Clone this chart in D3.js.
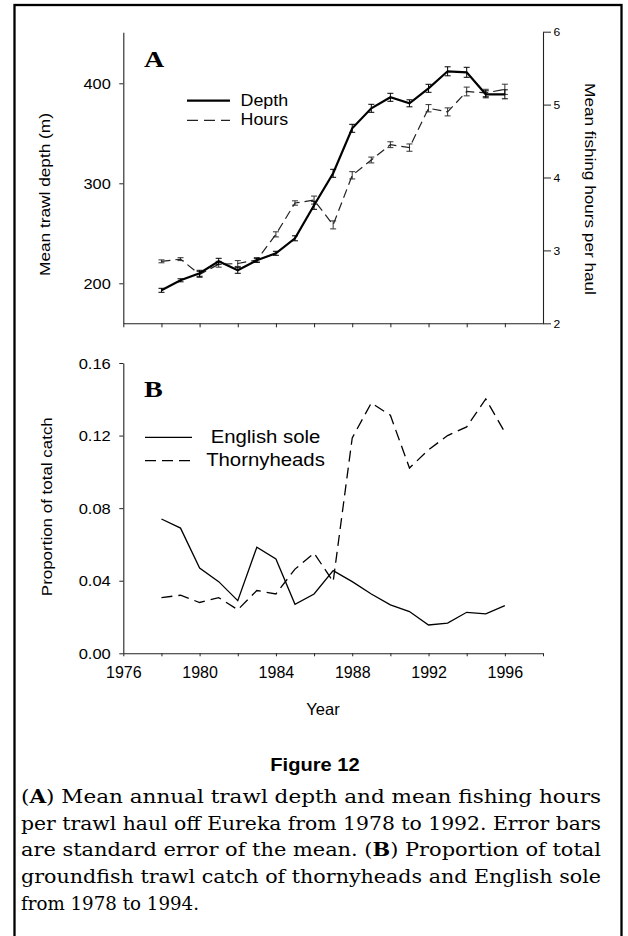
<!DOCTYPE html>
<html>
<head>
<meta charset="utf-8">
<script src="https://cdn.jsdelivr.net/npm/d3@7"></script>
<style>
  body { margin: 0; background: #fff; }
  svg { display: block; }
</style>
</head>
<body>
<script>
'use strict';

// values
let years = [1978, 1979, 1980, 1981, 1982, 1983, 1984, 1985, 1986, 1987,
             1988, 1989, 1990, 1991, 1992, 1993, 1994, 1995, 1996];
let depth = [193, 203, 210, 222, 213, 223, 230, 245, 278, 310,
             355, 375, 386, 380, 395, 412, 411, 389, 389];
let depthSE = [2, 1.5, 3, 3, 3, 2, 2, 2.5, 4, 4,
               4, 4, 4, 3.5, 4, 4.5, 5, 3.5, 4.5];
let hours = [2.85, 2.88, 2.67, 2.81, 2.82, 2.87, 3.22, 3.65, 3.69, 3.35,
             4.03, 4.24, 4.45, 4.41, 4.95, 4.90, 5.18, 5.16, 5.21];
let hoursSE = [0.02, 0.02, 0.04, 0.04, 0.04, 0.03, 0.035, 0.03, 0.055, 0.055,
               0.05, 0.04, 0.04, 0.05, 0.05, 0.055, 0.06, 0.05, 0.07];
let englishSole = [0.074, 0.069, 0.047, 0.0395, 0.029, 0.0585, 0.052, 0.027, 0.0327, 0.0456,
                   0.0395, 0.0327, 0.0267, 0.023, 0.0156, 0.0166, 0.0226, 0.0217, 0.0263];
let thornyheads = [0.0307, 0.032, 0.028, 0.0307, 0.024, 0.0346, 0.0327, 0.0464, 0.0552, 0.0395,
                   0.1187, 0.138, 0.1312, 0.1021, 0.1122, 0.12, 0.1248, 0.1402, 0.1218];

let depthTicks = [200, 300, 400];
let hoursTicks = [2, 3, 4, 5, 6];
let propTicks = [0, 0.04, 0.08, 0.12, 0.16];
let yearTicksA = [1976, 1978, 1980, 1982, 1984, 1986, 1988, 1990, 1992, 1994, 1996];
let yearTicksB = [1976, 1978, 1980, 1982, 1984, 1986, 1988, 1990, 1992, 1994, 1996, 1998];
let yearLabels = [1976, 1980, 1984, 1988, 1992, 1996];

let caption = [
  [['(', false], ['A', true], [') Mean annual trawl depth and mean fishing hours', false]],
  [['per trawl haul off Eureka from 1978 to 1992. Error bars', false]],
  [['are standard error of the mean. (', false], ['B', true], [') Proportion of total', false]],
  [['groundfish trawl catch of thornyheads and English sole', false]],
  [['from 1978 to 1994.', false]]
];

let width = 628;
let height = 936;
let sans = '"Liberation Sans", Arial, sans-serif';
let serif = '"Liberation Serif", "Times New Roman", serif';

let svg = d3.select('body').append('svg')
  .attr('width', width)
  .attr('height', height);

// outer frame (bottom runs off the page)
svg.append('rect')
  .attr('x', 14.5).attr('y', 5)
  .attr('width', 607).attr('height', 1000)
  .attr('fill', 'none').attr('stroke', '#000').attr('stroke-width', 2.3);

let x = d3.scaleLinear().domain([1976, 1998]).range([123.3, 543]);
let yDepth = d3.scaleLinear().domain([160, 451]).range([323.3, 32.3]);
let yHours = d3.scaleLinear().domain([2, 6]).range([323.3, 31.7]);
let yProp = d3.scaleLinear().domain([0, 0.16]).range([653.3, 363]);

// stretched text helper: the original type is a bit wider than Arial
function label(x0, y0, str, opts) {
  let o = Object.assign({ size: 15, sx: 1, rot: 0, anchor: 'middle', family: sans, weight: 'normal' }, opts);
  return svg.append('text')
    .attr('transform', 'translate(' + x0 + ',' + y0 + ') rotate(' + o.rot + ') scale(' + o.sx + ',1)')
    .attr('text-anchor', o.anchor)
    .style('font-family', o.family)
    .style('font-size', o.size + 'px')
    .style('font-weight', o.weight)
    .attr('fill', '#000')
    .text(str);
}

function styleAxis(g, size, sx, offset, dy) {
  g.select('.domain').attr('stroke', '#222').attr('stroke-width', 1.1);
  g.selectAll('.tick line').attr('stroke', '#222').attr('stroke-width', 1);
  g.selectAll('.tick text')
    .attr('x', null).attr('y', null).attr('dy', dy)
    .attr('transform', 'translate(' + offset[0] + ',' + offset[1] + ') scale(' + sx + ',1)')
    .style('font-family', sans)
    .style('font-size', size + 'px')
    .attr('fill', '#000');
}

// ---------- panel A ----------
let gA = svg.append('g');

gA.append('g')
  .attr('transform', 'translate(123.3,0)')
  .call(d3.axisLeft(yDepth).tickValues(depthTicks).tickSize(4).tickSizeOuter(0))
  .call(g => styleAxis(g, 14, 1.17, [-12.5, 0], '0.36em'));

gA.append('g')
  .attr('transform', 'translate(543,0)')
  .call(d3.axisRight(yHours).tickValues(hoursTicks).tickFormat(d3.format('d')).tickSize(8).tickSizeOuter(0))
  .call(g => styleAxis(g, 11, 1.1, [10.5, 0], '0.36em'));

gA.append('g')
  .attr('transform', 'translate(0,323.3)')
  .call(d3.axisBottom(x).tickValues(yearTicksA).tickFormat('').tickSize(4).tickSizeOuter(0))
  .call(g => styleAxis(g, 11, 1, [0, 0], 0));

// hours error bars + dashed line
let hoursPts = years.map((yr, i) => ({ yr: yr, v: hours[i], se: hoursSE[i] }));
let depthPts = years.map((yr, i) => ({ yr: yr, v: depth[i], se: depthSE[i] }));

function errorBars(pts, yScale, color) {
  let g = gA.append('g').attr('stroke', color).attr('stroke-width', 1).attr('fill', 'none');
  pts.forEach(d => {
    let cx = x(d.yr);
    let y1 = yScale(d.v - d.se);
    let y2 = yScale(d.v + d.se);
    g.append('line').attr('x1', cx).attr('x2', cx).attr('y1', y1).attr('y2', y2);
    g.append('line').attr('x1', cx - 3).attr('x2', cx + 3).attr('y1', y1).attr('y2', y1);
    g.append('line').attr('x1', cx - 3).attr('x2', cx + 3).attr('y1', y2).attr('y2', y2);
  });
}

errorBars(hoursPts, yHours, '#333');
gA.append('path')
  .datum(hoursPts)
  .attr('d', d3.line().x(d => x(d.yr)).y(d => yHours(d.v)))
  .attr('fill', 'none')
  .attr('stroke', '#222')
  .attr('stroke-width', 1.2)
  .attr('stroke-dasharray', '9,5');

errorBars(depthPts, yDepth, '#000');
gA.append('path')
  .datum(depthPts)
  .attr('d', d3.line().x(d => x(d.yr)).y(d => yDepth(d.v)))
  .attr('fill', 'none')
  .attr('stroke', '#000')
  .attr('stroke-width', 2.2);

// legend A
gA.append('line').attr('x1', 187).attr('x2', 230).attr('y1', 100.7).attr('y2', 100.7)
  .attr('stroke', '#000').attr('stroke-width', 2.2);
gA.append('line').attr('x1', 187).attr('x2', 230).attr('y1', 120.3).attr('y2', 120.3)
  .attr('stroke', '#222').attr('stroke-width', 1.2).attr('stroke-dasharray', '11,6');
label(240.5, 105.5, 'Depth', { size: 17, sx: 1.05, anchor: 'start' });
label(240.5, 125, 'Hours', { size: 17, sx: 1.05, anchor: 'start' });

label(144, 66.7, 'A', { size: 22.5, sx: 1.25, anchor: 'start', family: serif, weight: 'bold' });

label(50, 194.5, 'Mean trawl depth (m)', { size: 15, sx: 1.15, rot: -90 });
label(584.5, 189, 'Mean fishing hours per haul', { size: 15, sx: 1.145, rot: 90 });

// ---------- panel B ----------
let gB = svg.append('g');

gB.append('g')
  .attr('transform', 'translate(123.3,0)')
  .call(d3.axisLeft(yProp).tickValues(propTicks).tickFormat(d3.format('.2f')).tickSize(4).tickSizeOuter(0))
  .call(g => styleAxis(g, 14, 1.18, [-12.5, 0], '0.36em'));

gB.append('g')
  .attr('transform', 'translate(0,653.3)')
  .call(d3.axisBottom(x).tickValues(yearTicksB)
    .tickFormat(d => yearLabels.indexOf(d) >= 0 ? d : '')
    .tickSize(3).tickSizeOuter(0))
  .call(g => styleAxis(g, 16, 1, [0, 25], 0));

let propLine = d3.line().x((d, i) => x(years[i])).y(d => yProp(d));

gB.append('path')
  .datum(englishSole)
  .attr('d', propLine)
  .attr('fill', 'none')
  .attr('stroke', '#000')
  .attr('stroke-width', 1.3);

gB.append('path')
  .datum(thornyheads)
  .attr('d', propLine)
  .attr('fill', 'none')
  .attr('stroke', '#000')
  .attr('stroke-width', 1.3)
  .attr('stroke-dasharray', '11,6');

// legend B
gB.append('line').attr('x1', 145).attr('x2', 192).attr('y1', 437.3).attr('y2', 437.3)
  .attr('stroke', '#000').attr('stroke-width', 1.3);
gB.append('line').attr('x1', 145).attr('x2', 192).attr('y1', 460.7).attr('y2', 460.7)
  .attr('stroke', '#000').attr('stroke-width', 1.3).attr('stroke-dasharray', '11,6');
label(265.5, 442.7, 'English sole', { size: 18.5, sx: 1.1 });
label(265.5, 465.7, 'Thornyheads', { size: 18.5, sx: 1.1 });

label(144, 396.7, 'B', { size: 22.5, sx: 1.25, anchor: 'start', family: serif, weight: 'bold' });

label(52, 506.7, 'Proportion of total catch', { size: 15, sx: 1.13, rot: -90 });
label(323, 715, 'Year', { size: 16.5, sx: 1 });

// ---------- caption ----------
label(315, 771, 'Figure 12', { size: 19, sx: 1.06, weight: 'bold' });

let capLeft = 21;
let capRight = 601;
let capBase = [803, 829.7, 856.4, 883.1, 909.8];
caption.forEach((parts, i) => {
  let t = svg.append('text')
    .attr('x', capLeft)
    .attr('y', capBase[i])
    .style('font-family', '"DejaVu Serif", serif')
    .style('font-size', '18px')
    .attr('fill', '#000');
  if (i < caption.length - 1) {
    t.attr('textLength', capRight - capLeft).attr('lengthAdjust', 'spacingAndGlyphs');
  } else {
    t.attr('textLength', 178).attr('lengthAdjust', 'spacingAndGlyphs');
  }
  parts.forEach(p => {
    t.append('tspan')
      .style('font-weight', p[1] ? 'bold' : 'normal')
      .text(p[0]);
  });
});
</script>
</body>
</html>
